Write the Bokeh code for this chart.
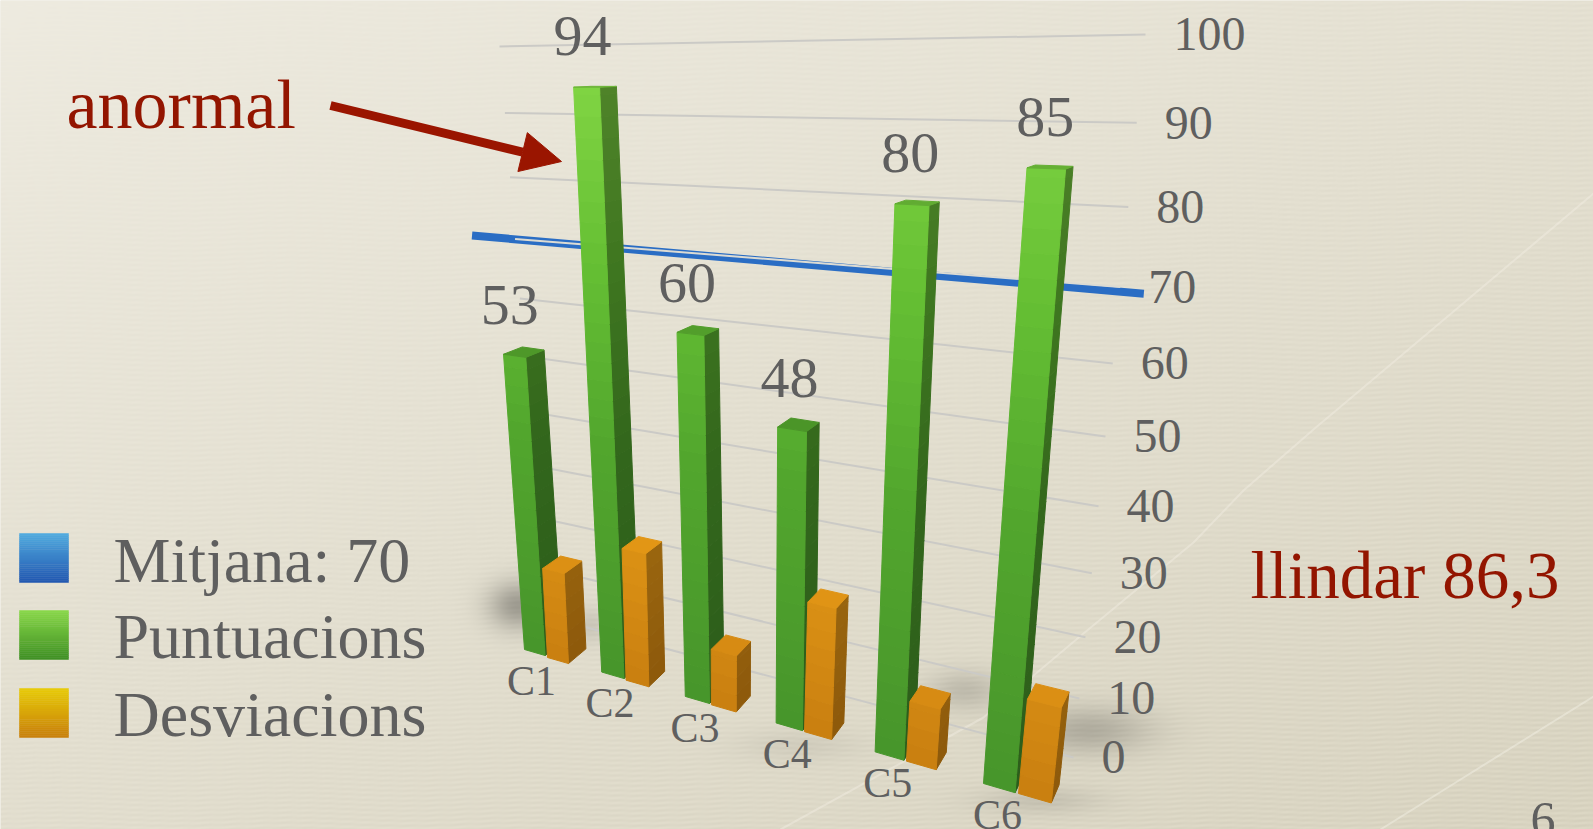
import numpy as np
from bokeh.plotting import figure
from bokeh.models import ColumnDataSource, Range1d, Arrow, NormalHead
from bokeh.core.properties import value
from bokeh.embed import file_html
from bokeh.resources import INLINE

# ---- data
categories = ["C1", "C2", "C3", "C4", "C5", "C6"]
puntuacions = [53, 94, 60, 48, 80, 85]
desviacions = [17, 24, 10, 22, 10, 15]
mitjana = 70
tick_values = [0, 10, 20, 30, 40, 50, 60, 70, 80, 90, 100]
legend_labels = ["Mitjana: 70", "Puntuacions", "Desviacions"]
note_anormal = "anormal"
note_llindar = "llindar 86,3"
page_number = "6"

# ---- layout (page pixels of the 1593x829 window)
W, H_PAGE, M = 1593, 829, 0
SERIF = value("Liberation Serif")
GREY, RED = "#5f5f5f", "#931500"
BASELINE_SHIFT = 0.35


def yy(y):
    return H_PAGE - np.asarray(y, dtype=float)


def text_y(baseline, size):
    """Data y for a text whose foot should sit on a given page row."""
    return yy(np.asarray(baseline, dtype=float) - BASELINE_SHIFT * size)


def make_projection(c00, c10, c01, c11):
    """Homography taking (u, v/100) of the unit square to a page quad."""
    src = [(0, 0), (1, 0), (0, 1), (1, 1)]
    dst = [c00, c10, c01, c11]
    A, b = [], []
    for (s, t), (x, y) in zip(src, dst):
        A.append([s, t, 1, 0, 0, 0, -s * x, -t * x]); b.append(x)
        A.append([0, 0, 0, s, t, 1, -s * y, -t * y]); b.append(y)
    h = np.linalg.solve(np.array(A, float), np.array(b, float))

    def project(u, v):
        t = v / 100.0
        d = h[6] * u + h[7] * t + 1
        return (h[0] * u + h[1] * t + h[2]) / d, (h[3] * u + h[4] * t + h[5]) / d
    return project


wall = make_projection((545, 616), (1073, 757), (499, 46), (1145, 34))
front_green = make_projection((524, 649), (983, 783), (481, 44), (1036, 33))
front_orange = make_projection((547, 657), (1018, 793), (514, 52), (1090, 34))


def depth(x, y):
    return 18 - (x - 540) * 0.02, -(y - 50) * 0.024


def hex_rgb(c):
    return np.array([int(c[i:i + 2], 16) for i in (1, 3, 5)], float)


def rgb_hex(c):
    return "#%02x%02x%02x" % tuple(int(np.clip(round(a), 0, 255)) for a in c)


def ramp(stops, v):
    xs = [s[0] for s in stops]
    cols = np.array([hex_rgb(s[1]) for s in stops])
    return np.array([np.interp(v, xs, cols[:, k]) for k in range(3)])


GREEN = [(0, "#47952b"), (40, "#52a62d"), (70, "#66c034"), (100, "#86d946")]
ORANGE = [(0, "#c97f10"), (30, "#e09616")]

# ---- figure
p = figure(width=W - 2 * M, height=H_PAGE - 2 * M, output_backend="svg", toolbar_location=None,
           x_range=Range1d(M, W - M), y_range=Range1d(M, H_PAGE - M), min_border=0,
           x_axis_type=None, y_axis_type=None, outline_line_color=None,
           background_fill_color="#e8e4d6", border_fill_color="#e8e4d6")
p.grid.visible = False

# ---- paper background
ny, nx = H_PAGE - 2 * M, W - 2 * M
px, py = np.meshgrid(np.arange(M, W - M) + .5, np.arange(H_PAGE - M, M, -1) - .5)
t = np.clip(0.45 * px / W + 0.55 * py / H_PAGE, 0, 1)
rgb = hex_rgb("#eeebe0")[None, None, :] * (1 - t[..., None]) + hex_rgb("#d9d4c1")[None, None, :] * t[..., None]
weave = np.sin(2 * np.pi * (py + 1.5 * np.sin(px / 37.0)) / 5.0) + 0.4 * np.sin(2 * np.pi * (py / 5.0 + px / 23.0))
rgb = rgb + (weave * (0.4 + 3.6 * t))[..., None]
shade = np.ones_like(t)
for cx_, cy_, sx, sy, a in [(518, 605, 30, 24, .30), (590, 625, 22, 18, .10),
                            (965, 690, 38, 20, .14), (1088, 730, 62, 24, .20),
                            (1040, 800, 60, 14, .10), (800, 745, 60, 16, .06)]:
    shade *= 1 - a * np.exp(-((px - cx_) / sx) ** 2 - ((py - cy_) / sy) ** 2)
rgb = rgb * shade[..., None]
img = np.empty((ny, nx), dtype=np.uint32)
view = img.view(dtype=np.uint8).reshape((ny, nx, 4))
view[..., :3] = np.clip(rgb, 0, 255).astype(np.uint8)
view[..., 3] = 255
p.image_rgba(image=[img], x=M, y=M, dw=nx, dh=ny)

# faint creases in the paper
p.line([1593, 1313, 1243, 1193, 1083, 983, 780], yy([193, 429, 490, 542, 633, 717, 829]),
       line_color="#f4f1e6", line_width=2, line_alpha=.4)
p.line([1593, 1460, 1380], yy([696, 779, 829]), line_color="#f4f1e6", line_width=2, line_alpha=.45)

# ---- grid on the back wall
gx, gy = [], []
for v in tick_values:
    if v == mitjana:
        continue
    x0, y0 = wall(0.0, v)
    x1, y1 = wall(1.0, v)
    gx.append([x0, x1]); gy.append(list(yy([y0, y1])))
p.multi_line(gx, gy, line_color="#cbcac6", line_width=2)

# mean line and the grid line that it runs along
bx0, by0 = wall(-0.095, mitjana)
bx1, by1 = wall(1.03, mitjana - 0.6)
p.line([bx0, bx1], yy([by0, by1]), line_color="#2a6dc4", line_width=8)
wx0, wy0 = wall(0.0, mitjana)
wx1, wy1 = wall(1.0, mitjana)
p.line([wx0, wx1], yy([wy0, wy1]), line_color="#dcdbd3", line_width=2)


# ---- bars
def bar_faces(project, u, w, val, stops, side_k, top_k, step=3.0):
    xs, ys, cols = [], [], []
    levels = list(np.arange(0, val, step)) + [val]

    def add(poly, col):
        xs.append([q[0] for q in poly])
        ys.append(list(yy([q[1] for q in poly])))
        cols.append(rgb_hex(col))

    for a, b in zip(levels[:-1], levels[1:]):
        col = ramp(stops, (a + b) / 2)
        la, lb = project(u, a), project(u, b)
        ra, rb = project(u + w, a), project(u + w, b)
        da, db = depth(*ra), depth(*rb)
        add([ra, rb, (rb[0] + db[0], rb[1] + db[1]), (ra[0] + da[0], ra[1] + da[1])], col * side_k)
        add([la, ra, rb, lb], col)
    l, r = project(u, val), project(u + w, val)
    dl, dr = depth(*l), depth(*r)
    add([l, r, (r[0] + dr[0], r[1] + dr[1]), (l[0] + dl[0], l[1] + dl[1])], ramp(stops, val) * top_k)
    return xs, ys, cols


BAR_W = 0.055
for i, (pv, dv) in enumerate(zip(puntuacions, desviacions)):
    u = i / (len(categories) - 1)
    for proj, val, stops, sk, tk in [(front_green, pv, GREEN, .62, .86),
                                     (front_orange, dv, ORANGE, .70, 1.03)]:
        xs, ys, cols = bar_faces(proj, u, BAR_W, val, stops, sk, tk)
        p.patches(xs="xs", ys="ys", fill_color="c", line_color="c", line_width=1,
                  source=ColumnDataSource(dict(xs=xs, ys=ys, c=cols)))

# ---- value labels on the bars
lab_x, lab_y, lab_t = [], [], []
for i, pv in enumerate(puntuacions):
    u = i / (len(categories) - 1)
    xl, yl = front_green(u, pv)
    xr, _ = front_green(u + BAR_W, pv)
    lab_x.append((xl + xr) / 2 - 5 + 0.8 * i)
    lab_y.append(yl - 29 - max(pv - 50, 0) * 0.04)
    lab_t.append(str(pv))
p.text(lab_x, list(text_y(lab_y, 58)), text=lab_t, text_font=SERIF, text_font_size="58px", text_color=GREY,
       text_align="center", text_baseline="alphabetic")

# ---- category labels
cx, cy = [], []
for i, c in enumerate(categories):
    xb, yb = front_green(i / (len(categories) - 1), 0)
    cx.append(xb + 7 + 1.4 * i)
    cy.append(yb + 46)
p.text(cx, list(text_y(cy, 42)), text=categories, text_font=SERIF, text_font_size="42px", text_color=GREY,
       text_align="center", text_baseline="alphabetic")

# ---- value axis labels
tx, ty = [], []
for v in tick_values:
    xe, ye = wall(1.0, v)
    tx.append(xe + 28)
    ty.append(ye + 16.5)
p.text(tx, list(text_y(ty, 48)), text=[str(v) for v in tick_values], text_font=SERIF, text_font_size="48px",
       text_color=GREY, text_align="left", text_baseline="alphabetic")

# ---- legend
swatches = [("#52ace0", "#2257b0"), ("#8ad94a", "#3f8f24"), ("#e8cc08", "#c87f0c")]
sw_top = [533, 610, 688]
sw_base = [582, 658, 736]
for (c0, c1), top, base, lab in zip(swatches, sw_top, sw_base, legend_labels):
    n = 24
    edges = np.linspace(top, top + 49, n + 1)
    cols = [rgb_hex(hex_rgb(c0) * (1 - (k + .5) / n) + hex_rgb(c1) * (k + .5) / n) for k in range(n)]
    p.quad(left=19, right=68, top=list(yy(edges[:-1])), bottom=list(yy(edges[1:])),
           fill_color=cols, line_color=cols, line_width=.5)
    p.text([113], [float(text_y(base, 64))], text=[lab], text_font=SERIF, text_font_size="64px", text_color=GREY,
           text_align="left", text_baseline="alphabetic")

# ---- notes
p.text([66], [float(text_y(128, 70))], text=[note_anormal], text_font=SERIF, text_font_size="70px", text_color=RED,
       text_align="left", text_baseline="alphabetic")
p.text([1250], [float(text_y(598, 67))], text=[note_llindar], text_font=SERIF, text_font_size="67px", text_color=RED,
       text_align="left", text_baseline="alphabetic")
p.text([1530], [float(text_y(836, 50))], text=[page_number], text_font=SERIF, text_font_size="50px", text_color=GREY,
       text_align="left", text_baseline="alphabetic")
p.add_layout(Arrow(end=NormalHead(size=40, fill_color="#9a1500", line_color="#9a1500"),
                   x_start=330, y_start=float(yy(105)), x_end=561, y_end=float(yy(161)),
                   line_color="#9a1500", line_width=9))

open("out.html", "w").write(file_html(p, INLINE))
